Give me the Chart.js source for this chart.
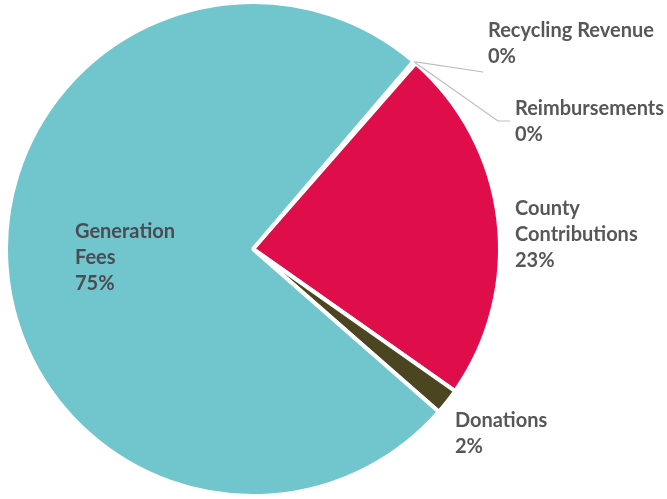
<!DOCTYPE html>
<html>
<head>
<meta charset="utf-8">
<script src="https://cdn.jsdelivr.net/npm/chart.js@4"></script>
<style>
html,body{margin:0;padding:0;background:#fff;}
#wrap{width:667px;height:499px;}
</style>
</head>
<body>
<div id="wrap"><canvas id="c" width="667" height="499"></canvas></div>
<script>
// ---- data ----
const categories = ['Recycling Revenue', 'Reimbursements', 'County Contributions', 'Donations', 'Generation Fees'];
const labelLines = [['Recycling Revenue'], ['Reimbursements'], ['County', 'Contributions'], ['Donations'], ['Generation', 'Fees']];
const values = [0.1, 0.1, 23.3, 1.7, 74.8];
const colors = ['#8A8A8A', '#B0B0B0', '#E00D4B', '#4B4522', '#71C5CD'];

// label placement (offsets from pie centre, px) and leader elbows
const placement = [
  {dx: 235, dy: -212, leader: [[230, -177]]},
  {dx: 262, dy: -134, leader: [[245, -128], [257, -128]]},
  {dx: 262, dy: -34},
  {dx: 202, dy: 178},
  {dx: -178, dy: -11}
];

const FONT = 'bold 20px Lato';
const LINE_H = 26;

const labelPlugin = {
  id: 'sliceLabels',
  afterDatasetsDraw(chart) {
    const ctx = chart.ctx;
    const meta = chart.getDatasetMeta(0);
    const total = values.reduce((a, b) => a + b, 0);
    ctx.save();
    meta.data.forEach((arc, i) => {
      const {x, y, outerRadius, startAngle, endAngle} = arc.getProps(['x', 'y', 'outerRadius', 'startAngle', 'endAngle'], true);
      const mid = (startAngle + endAngle) / 2;
      const p = placement[i];
      if (p.leader) {
        ctx.strokeStyle = '#BDBDBD';
        ctx.lineWidth = 1.2;
        ctx.beginPath();
        ctx.moveTo(x + Math.cos(mid) * outerRadius, y + Math.sin(mid) * outerRadius);
        p.leader.forEach(pt => ctx.lineTo(x + pt[0], y + pt[1]));
        ctx.stroke();
      }
      const lines = labelLines[i].concat([Math.round(values[i] / total * 100) + '%']);
      ctx.font = FONT;
      ctx.fillStyle = i === 4 ? '#4B4B53' : '#575757';
      ctx.textAlign = 'left';
      ctx.textBaseline = 'alphabetic';
      lines.forEach((t, k) => ctx.fillText(t, x + p.dx, y + p.dy + k * LINE_H));
    });
    ctx.restore();
  }
};

new Chart(document.getElementById('c'), {
  type: 'pie',
  data: {
    labels: categories,
    datasets: [{
      data: values,
      backgroundColor: colors,
      borderColor: '#FFFFFF',
      borderWidth: 4
    }]
  },
  options: {
    responsive: false,
    animation: false,
    rotation: 40.5,
    layout: {padding: {left: 4, right: 165, top: 0, bottom: 1}},
    plugins: {legend: {display: false}, tooltip: {enabled: false}}
  },
  plugins: [labelPlugin]
});
</script>
</body>
</html>
